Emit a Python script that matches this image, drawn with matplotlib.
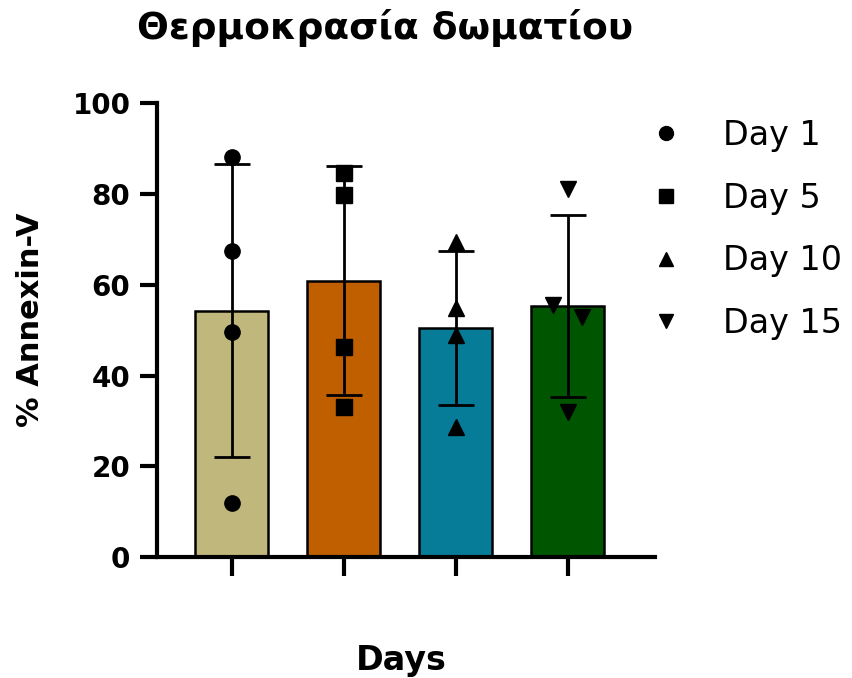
import numpy as np
import matplotlib.pyplot as plt
from matplotlib.lines import Line2D

plt.rcParams['font.family'] = ['DejaVu Sans']

groups = ['Day 1', 'Day 5', 'Day 10', 'Day 15']
colors = ['#c0b77c', '#c05f00', '#077c98', '#005500']
markers = ['o', 's', '^', 'v']

# individual replicate values per day
day1 = [88.2, 67.4, 49.6, 12.0]
day5 = [84.5, 79.7, 46.2, 33.1]
day10 = [69.5, 54.8, 48.9, 28.7]
day15 = [81.0, 55.5, 52.9, 32.0]
# horizontal scatter offsets of the points
offsets = [
    [0, 0, 0, 0],
    [0, 0, 0, 0],
    [0, 0, 0, 0],
    [0, -0.13, 0.13, 0],
]
data = [day1, day5, day10, day15]

means = [np.mean(d) for d in data]
sds = [np.std(d, ddof=1) for d in data]
x = np.arange(len(groups))

fig = plt.figure(figsize=(8.52, 6.78), dpi=100)
ax = fig.add_axes([0.184, 0.178, 0.585, 0.670])

ax.bar(x, means, width=0.65, color=colors, edgecolor='black', linewidth=1.8, zorder=1)
ax.errorbar(x, means, yerr=sds, fmt='none', ecolor='black', elinewidth=2,
            capsize=13, capthick=2, zorder=2)
for i, d in enumerate(data):
    ax.plot(x[i] + np.array(offsets[i]), d, linestyle='none', marker=markers[i],
            color='black', markersize=11, zorder=3)

ax.set_xlim(-0.67, 3.78)
ax.set_ylim(0, 100)
ax.set_yticks([0, 20, 40, 60, 80, 100])
ax.set_xticks(x)
ax.set_xticklabels([])
for s in ['top', 'right']:
    ax.spines[s].set_visible(False)
for s in ['left', 'bottom']:
    ax.spines[s].set_linewidth(3)
ax.tick_params(axis='y', width=3, length=12, labelsize=20, pad=7)
ax.tick_params(axis='x', width=3, length=14)
for lab in ax.get_yticklabels():
    lab.set_fontweight('bold')

ax.set_ylabel('% Annexin-V', fontsize=22, fontweight='bold')
ax.yaxis.set_label_coords(-0.224, 0.522)
ax.set_xlabel('Days', fontsize=24, fontweight='bold')
ax.xaxis.set_label_coords(0.49, -0.19)
fig.text(0.452, 0.943, 'Θερμοκρασία δωματίου', fontsize=27, fontweight='bold',
         ha='center', va='baseline')

handles = [Line2D([], [], linestyle='none', marker=m, color='black', markersize=10)
           for m in markers]
fig.legend(handles, groups, loc='upper left', bbox_to_anchor=(0.7505, 0.844),
           frameon=False, fontsize=24, labelspacing=0.89, handlelength=0.8,
           handletextpad=1.31, borderaxespad=0)

fig.savefig('out.png', dpi=100)
